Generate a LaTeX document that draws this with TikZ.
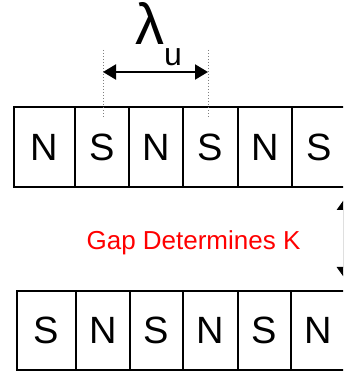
\documentclass[tikz,border=0pt]{standalone}
\usepackage{fontspec}
\setmainfont{Liberation Sans}
\usetikzlibrary{arrows.meta}
\begin{document}
\begin{tikzpicture}[x=1pt,y=1pt,
  magnet/.style={draw=black, line width=1.5pt, rectangle, inner sep=0pt,
    minimum height=#1, anchor=west, font=\fontsize{38}{38}\selectfont},
  dimline/.style={line width=2pt, {Triangle[length=13pt,width=15pt]}-{Triangle[length=13pt,width=15pt]}},
  guide/.style={gray, line width=1pt, dotted},
  gaparrow/.style={line width=1pt, {Triangle[length=10pt,width=14pt]}-{Triangle[length=10pt,width=14pt]}}
]
\useasboundingbox (0,0) rectangle (343,371);
\clip (0,0) rectangle (343,371);

% upper magnet array
\node[magnet=80pt, minimum width=61pt] (t1) at (13,224) {N};
\node[magnet=80pt, minimum width=54pt] (t2) at (74,224) {S};
\node[magnet=80pt, minimum width=54pt] (t3) at (128,224) {N};
\node[magnet=80pt, minimum width=55pt] (t4) at (182,224) {S};
\node[magnet=80pt, minimum width=54pt] (t5) at (237,224) {N};
\node[magnet=80pt, minimum width=54pt] (t6) at (291,224) {S};

% lower magnet array
\node[magnet=79pt, minimum width=59pt] (b1) at (16,40.5) {S};
\node[magnet=79pt, minimum width=54pt] (b2) at (75,40.5) {N};
\node[magnet=79pt, minimum width=53pt] (b3) at (129,40.5) {S};
\node[magnet=79pt, minimum width=55pt] (b4) at (182,40.5) {N};
\node[magnet=79pt, minimum width=53pt] (b5) at (237,40.5) {S};
\node[magnet=79pt, minimum width=54pt] (b6) at (290,40.5) {N};

% period marker
\coordinate (g1top) at (103,321);
\coordinate (g1bot) at (103,253);
\coordinate (g2top) at (208,321);
\coordinate (g2bot) at (208,253);
\draw[guide] (g1top) -- (g1bot);
\draw[guide] (g2top) -- (g2bot);
\coordinate (pl) at (103,299);
\coordinate (pr) at (208,299);
\draw[dimline] (pl) -- (pr);
\node[anchor=base west, inner sep=0pt] (lam) at (135,326)
  {\fontsize{58}{58}\selectfont λ\raisebox{-21pt}{\fontsize{32}{32}\selectfont u}};

% gap indicator
\node[anchor=base, inner sep=0pt, text=red, font=\fontsize{26}{26}\selectfont] (gap) at (193.5,121) {Gap Determines K};
\coordinate (gapTop) at (343.7,171);
\coordinate (gapBot) at (343.7,94);
\draw[gaparrow] (gapTop) -- (gapBot);
\end{tikzpicture}
\end{document}
